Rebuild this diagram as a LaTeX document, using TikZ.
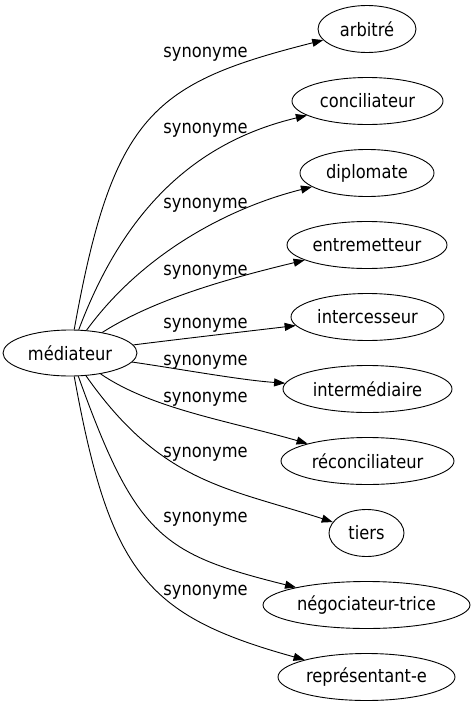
\documentclass[tikz,border=0pt]{standalone}
\usepackage{fontspec}
\setmainfont{DejaVu Sans}[FakeStretch=0.88]
\usepackage{tikz}
\usetikzlibrary{shapes.geometric,arrows.meta}

\begin{document}
\begin{tikzpicture}[x=1pt,y=-1pt,
		>={Triangle[length=11pt,width=8pt]},
		every node/.style={font=\fontsize{18.5}{20}\selectfont},
		word/.style={shape=ellipse, draw=black, line width=0.9pt, inner sep=0pt, minimum height=47pt},
		syn/.style={inner sep=0pt},
		link/.style={line width=0.9pt,->}]
				\useasboundingbox (0,0) rectangle (475,707);
				\node[word, minimum width=134pt, minimum height=46pt] (med) at (70,353) {médiateur};
				\node[word, minimum width=98pt] (arb) at (367,29) {arbitré};
				\node[word, minimum width=151pt] (conc) at (367.5,101) {conciliateur};
				\node[word, minimum width=134pt] (dipl) at (367,173) {diplomate};
				\node[word, minimum width=160pt] (entr) at (367,245) {entremetteur};
				\node[word, minimum width=153pt] (inter) at (367.5,317) {intercesseur};
				\node[word, minimum width=169pt] (interm) at (367.5,389) {intermédiaire};
				\node[word, minimum width=173pt] (recon) at (367.5,461) {réconciliateur};
				\node[word, minimum width=75pt] (tiers) at (366.5,533) {tiers};
				\node[word, minimum width=207pt] (nego) at (366.5,605) {négociateur-trice};
				\node[word, minimum width=177pt] (repr) at (366.5,677) {représentant-e};
				\node[syn] (l1) at (205.5,54) {synonyme};
				\node[syn] (l2) at (205.5,130) {synonyme};
				\node[syn] (l3) at (205.5,205) {synonyme};
				\node[syn] (l4) at (205.5,272) {synonyme};
				\node[syn] (l5) at (205.5,325) {synonyme};
				\node[syn] (l6) at (205.5,362) {synonyme};
				\node[syn] (l7) at (205.5,399) {synonyme};
				\node[syn] (l8) at (205.5,454) {synonyme};
				\node[syn] (l9) at (205.5,519) {synonyme};
				\node[syn] (l10) at (205.5,592) {synonyme};
				\draw[link] (med) .. controls (113,113) and (154,83) .. (arb);
				\draw[link] (med) .. controls (124.5,208) and (196.5,141.7) .. (conc);
				\draw[link] (med) .. controls (140.6,256) and (224.7,208.8) .. (dipl);
				\draw[link] (med) .. controls (157,297.6) and (235,277) .. (entr);
				\draw[link] (med) .. controls (180,339) and (250,331) .. (inter);
				\draw[link] (med) .. controls (180,369) and (240,380) .. (interm);
				\draw[link] (med) .. controls (152,409) and (229.5,421) .. (recon);
				\draw[link] (med) .. controls (161.6,483.5) and (227,487.7) .. (tiers);
				\draw[link] (med) .. controls (136,537) and (162.4,554) .. (nego);
				\draw[link] (med) .. controls (110,574) and (146.6,616) .. (repr);
			\end{tikzpicture}
\end{document}
